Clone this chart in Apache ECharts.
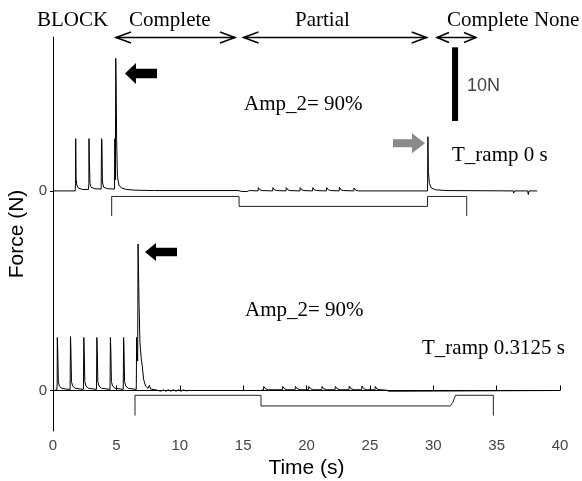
<!DOCTYPE html>
<html>
<head>
<meta charset="utf-8">
<script src="https://cdn.jsdelivr.net/npm/echarts@6/dist/echarts.min.js"></script>
<style>
  html, body { margin: 0; padding: 0; background: #fff; }
  #force { width: 582px; height: 481px; }
</style>
</head>
<body>
<div id="force"></div>
<script>
// time ticks (s)
const timeTicks = [0, 5, 10, 15, 20, 25, 30, 35, 40];

// T_ramp 0 s : force (N) vs time (s), relative to its own zero
const topForce = [
  [0, 0], [1.75, 0], [1.78, 1.0], [1.79, 7.1], [1.82, 1.6], [1.88, 0.8], [2.0, 0.4], [2.3, 0.2], [2.8, 0.2],
  [2.83, 1.0], [2.84, 7.1], [2.87, 3.9], [2.92, 1.0], [3.0, 0.5], [3.3, 0.3], [3.8, 0.25],
  [3.83, 7.1], [3.86, 6.8], [3.9, 1.2], [4.0, 0.5], [4.3, 0.3], [4.85, 0.25],
  [4.88, 7.1], [4.92, 1.5], [4.95, 18.0], [4.98, 14.9], [5.02, 7.0], [5.08, 2.0], [5.2, 0.8], [5.4, 0.4],
  [5.8, 0.2], [6.5, 0.1], [8, 0.05], [14.6, 0.05],
  [14.9, -0.08], [15.0, 0.05], [15.3, -0.08], [15.5, 0.05],
  [16.18, 0], [16.2, 0.45], [16.32, 0.15], [16.5, 0.05],
  [17.33, 0], [17.35, 0.45], [17.47, 0.15], [17.65, 0.05],
  [18.38, 0], [18.4, 0.45], [18.52, 0.15], [18.7, 0.05],
  [19.48, 0], [19.5, 0.45], [19.62, 0.15], [19.8, 0.05],
  [20.48, 0], [20.5, 0.45], [20.62, 0.15], [20.8, 0.05],
  [21.58, 0], [21.6, 0.45], [21.72, 0.15], [21.9, 0.05],
  [22.58, 0], [22.6, 0.5], [22.72, 0.15], [22.9, 0.05],
  [23.73, 0], [23.75, 0.4], [23.87, 0.1], [24.1, 0],
  [29.55, 0], [29.58, 7.35], [29.62, 2.5], [29.7, 1.0], [29.85, 0.4], [30.2, 0.15], [31, 0.05],
  [36.3, 0], [36.35, -0.3], [36.4, 0], [37.45, 0], [37.5, -0.5], [37.55, 0], [38.2, 0]
];

// T_ramp 0 s : stimulus trace
const topStim = [
  [4.63, -3.4], [4.63, -0.75], [14.68, -0.75], [14.68, -2.1], [29.55, -2.1],
  [29.55, -0.75], [32.64, -0.75], [32.64, -3.4]
];

// T_ramp 0.3125 s : force (N) vs time (s)
const bottomForce = [
  [0, 0], [0.3, 0.05], [0.33, 1.0], [0.34, 7.2], [0.37, 5.7], [0.42, 1.2], [0.5, 0.6], [0.7, 0.3], [1.0, 0.2], [1.35, 0.15],
  [1.38, 7.3], [1.41, 5.7], [1.46, 1.2], [1.55, 0.6], [1.75, 0.3], [2.4, 0.15],
  [2.43, 7.2], [2.46, 5.7], [2.51, 1.2], [2.6, 0.6], [2.8, 0.3], [3.43, 0.15],
  [3.46, 7.2], [3.49, 5.7], [3.54, 1.2], [3.63, 0.6], [3.83, 0.3], [4.5, 0.15],
  [4.53, 7.2], [4.56, 5.7], [4.61, 1.2], [4.7, 0.6], [4.9, 0.3], [5.54, 0.15],
  [5.57, 7.2], [5.6, 5.7], [5.65, 1.2], [5.74, 0.6], [5.94, 0.3], [6.57, 0.15],
  [6.6, 7.2], [6.63, 5.5], [6.68, 4.0], [6.71, 19.9], [6.74, 16.8], [6.79, 11.7], [6.86, 6.5],
  [6.95, 4.5], [7.05, 3.2], [7.15, 1.5], [7.3, 0.6], [7.5, 0.3], [7.6, 0.7], [7.7, 0.2], [8.2, 0.05],
  [8.3, 0.1], [8.5, -0.1], [8.7, 0.1], [8.9, -0.1], [9.1, 0.1], [9.3, -0.1], [9.5, 0.1], [9.7, -0.1],
  [9.9, 0.1], [10.1, -0.1], [10.3, 0.1], [10.5, -0.05], [10.7, 0], [11.0, 0], [11.05, 0.2], [11.1, 0],
  [11.8, 0], [11.85, 0.2], [11.9, 0], [16.4, 0],
  [16.6, 0.1], [16.63, 0.55], [16.75, 0.25], [17.0, 0.1],
  [18.1, 0.1], [18.13, 0.55], [18.25, 0.25], [18.5, 0.1],
  [19.1, 0.1], [19.13, 0.55], [19.25, 0.25], [19.5, 0.1],
  [20.15, 0.1], [20.18, 0.55], [20.3, 0.25], [20.55, 0.1],
  [21.2, 0.1], [21.23, 0.55], [21.35, 0.25], [21.6, 0.1],
  [22.25, 0.1], [22.28, 0.55], [22.4, 0.25], [22.65, 0.1],
  [23.35, 0.1], [23.38, 0.6], [23.5, 0.25], [23.75, 0.1],
  [24.35, 0.1], [24.38, 0.6], [24.5, 0.25], [24.75, 0.1],
  [25.4, 0.1], [25.43, 0.55], [25.55, 0.2], [25.8, 0.1],
  [26.3, 0.05], [26.5, -0.1], [26.6, 0.05], [26.8, -0.1], [26.9, 0], [40, 0]
];

// T_ramp 0.3125 s : stimulus trace
const bottomStim = [
  [6.47, -3.4], [6.47, -0.65], [16.41, -0.65], [16.41, -2.1], [31.35, -2.1],
  [31.55, -1.6], [31.75, -0.65], [34.74, -0.65], [34.74, -3.4]
];

// 10 N scale bar
const scaleBar = [[31.72, 36.6], [31.72, 46.6]];

// shift of the upper record on the common force axis
const TOP_BASE = 27.1;

const shift = (arr, d) => arr.map(p => [p[0], p[1] + d]);

// left pointing block arrow
function blockArrow(tx, cy, hl, hh, sh, ex, color) {
  return {
    type: 'polygon',
    shape: { points: [[tx, cy], [tx + hl, cy - hh], [tx + hl, cy - sh], [ex, cy - sh], [ex, cy + sh], [tx + hl, cy + sh], [tx + hl, cy + hh]] },
    style: { fill: color }
  };
}
// right pointing block arrow
function blockArrowRight(sx, tx, cy, hl, hh, sh, color) {
  return {
    type: 'polygon',
    shape: { points: [[tx, cy], [tx - hl, cy - hh], [tx - hl, cy - sh], [sx, cy - sh], [sx, cy + sh], [tx - hl, cy + sh], [tx - hl, cy + hh]] },
    style: { fill: color }
  };
}
// open double arrow
function doubleArrow(x1, x2, y, w, h) {
  const st = { stroke: '#000', lineWidth: 1.5, fill: null };
  return [
    { type: 'line', shape: { x1: x1, y1: y, x2: x2, y2: y }, style: st },
    { type: 'polyline', shape: { points: [[x1 + w, y - h], [x1, y], [x1 + w, y + h]] }, style: st },
    { type: 'polyline', shape: { points: [[x2 - w, y - h], [x2, y], [x2 - w, y + h]] }, style: st }
  ];
}
function serifText(str, x, y) {
  return {
    type: 'text', x: x, y: y,
    style: { text: str, font: '21px "Liberation Serif", "Times New Roman", serif', fill: '#000', verticalAlign: 'middle' }
  };
}

let myChart = echarts.init(document.getElementById('force'));

let option = {
  animation: false,
  backgroundColor: '#fff',
  grid: { left: 53, right: 22, top: 37, bottom: 50, outerBoundsMode: 'none' },
  xAxis: {
    type: 'value',
    min: timeTicks[0],
    max: timeTicks[timeTicks.length - 1],
    interval: 5,
    name: 'Time (s)',
    nameLocation: 'middle',
    nameGap: 25,
    nameTextStyle: { fontFamily: '"Liberation Sans", Arial, sans-serif', fontSize: 21, color: '#000' },
    axisLine: { lineStyle: { color: '#000', width: 1 } },
    axisTick: { inside: true, length: 5, lineStyle: { color: '#000' } },
    axisLabel: { fontFamily: '"Liberation Sans", Arial, sans-serif', fontSize: 15, color: '#444', margin: 7 },
    splitLine: { show: false }
  },
  yAxis: {
    type: 'value',
    min: -5.5,
    max: 48,
    name: 'Force (N)',
    nameLocation: 'middle',
    nameGap: 14,
    nameTextStyle: { fontFamily: '"Liberation Sans", Arial, sans-serif', fontSize: 21, color: '#000' },
    axisLine: { show: true, lineStyle: { color: '#000', width: 1 } },
    axisTick: { show: true, customValues: [0, TOP_BASE], length: 3, lineStyle: { color: '#000' } },
    axisLabel: {
      customValues: [0, TOP_BASE],
      formatter: () => '0',
      fontFamily: '"Liberation Sans", Arial, sans-serif', fontSize: 15, color: '#444', margin: 6
    },
    splitLine: { show: false }
  },
  series: [
    {
      name: 'force 0 s', type: 'line', data: shift(topForce, TOP_BASE),
      symbol: 'none', lineStyle: { color: '#000', width: 1 }
    },
    {
      name: 'stim 0 s', type: 'line', data: shift(topStim, TOP_BASE),
      symbol: 'none', lineStyle: { color: '#222', width: 1 }
    },
    {
      name: 'force 0.3125 s', type: 'line', data: bottomForce,
      symbol: 'none', lineStyle: { color: '#000', width: 1 }
    },
    {
      name: 'stim 0.3125 s', type: 'line', data: bottomStim,
      symbol: 'none', lineStyle: { color: '#222', width: 1 }
    },
    {
      name: '10N', type: 'line', data: scaleBar,
      symbol: 'none', lineStyle: { color: '#000', width: 6, cap: 'butt' }
    }
  ],
  graphic: [
    serifText('BLOCK', 37, 20),
    serifText('Complete', 129, 20),
    serifText('Partial', 295, 20),
    serifText('Complete None', 447, 20),
    ...doubleArrow(116, 235, 37.5, 15, 5.5),
    ...doubleArrow(243.5, 426.7, 37.5, 15, 5.5),
    ...doubleArrow(437, 476, 37.5, 12, 5),
    serifText('Amp_2= 90%', 244, 104),
    serifText('T_ramp 0 s', 452, 155),
    serifText('Amp_2= 90%', 245, 310),
    serifText('T_ramp 0.3125 s', 422, 348),
    {
      type: 'text', x: 467, y: 86,
      style: { text: '10N', font: '18px "Liberation Sans", Arial, sans-serif', fill: '#444', verticalAlign: 'middle' }
    },
    blockArrow(125, 73.5, 11, 10.5, 4.8, 157, '#000'),
    blockArrow(145, 252, 11, 9, 4.2, 177, '#000'),
    blockArrowRight(393, 425, 143.3, 13, 10, 4, '#8a8a8a')
  ]
};

myChart.setOption(option);
</script>
</body>
</html>
